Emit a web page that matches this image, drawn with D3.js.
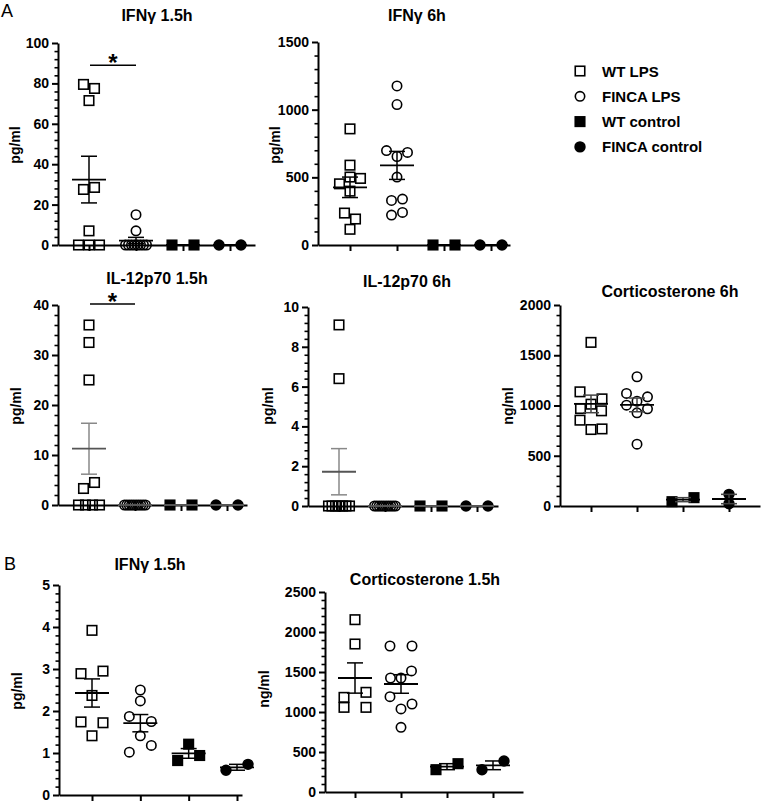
<!DOCTYPE html>
<html>
<head>
<meta charset="utf-8">
<script src="https://cdn.jsdelivr.net/npm/d3@7"></script>
<style>
  body { margin: 0; background: #fff; }
  svg { display: block; font-family: 'Liberation Sans', Arial, sans-serif; }
</style>
</head>
<body>
<div id="chart"></div>
<script>
var chart_width = 764;
var chart_height = 809;

// groups, in the order they sit on every x axis
var groups = ['WT LPS', 'FINCA LPS', 'WT control', 'FINCA control'];

// values, one array per group: [WT LPS, FINCA LPS, WT control, FINCA control]
var ifng15A = [
    [79.5, 77.5, 71.5, 27.5, 28.5, 7, 0, 0, 0],
    [15, 7, 0, 0, 0, 0, 0, 0, 0, 0],
    [0, 0],
    [0, 0]
];
var ifng6A = [
    [858, 590, 452, 502, 492, 398, 236, 192, 116],
    [1175, 1038, 698, 654, 684, 502, 329, 339, 221, 241],
    [0, 0],
    [0, 0]
];
var il12_15A = [
    [36, 32.5, 25, 3.3, 4.5, 0, 0, 0, 0],
    [0, 0, 0, 0, 0, 0, 0, 0, 0, 0],
    [0, 0],
    [0, 0]
];
var il12_6A = [
    [9.1, 6.4, 0, 0, 0, 0, 0, 0, 0],
    [0, 0, 0, 0, 0, 0, 0, 0, 0, 0],
    [0, 0],
    [0, 0]
];
var cort6A = [
    [1628, 1136, 1066, 970, 1013, 947, 854, 761, 767],
    [1286, 1120, 1043, 1086, 1003, 927, 967, 615],
    [43, 83],
    [116, 23]
];
var ifng15B = [
    [3.92, 2.89, 2.95, 2.37, 1.74, 1.72, 1.41],
    [2.50, 2.24, 1.87, 1.75, 1.41, 1.02, 1.18],
    [0.82, 1.21, 0.94],
    [0.59, 0.73]
];
var cort15B = [
    [2154, 1850, 1183, 1246, 1058, 1058],
    [1825, 1825, 1425, 1425, 1513, 1192, 1100, 1038, 808],
    [279, 354],
    [279, 388]
];

// y tick labels
var ticksIfng15A = [0, 20, 40, 60, 80, 100];
var ticksIfng6A = [0, 500, 1000, 1500];
var ticksIl12_15A = [0, 10, 20, 30, 40];
var ticksIl12_6A = [0, 2, 4, 6, 8, 10];
var ticksCort6A = [0, 500, 1000, 1500, 2000];
var ticksIfng15B = [0, 1, 2, 3, 4, 5];
var ticksCort15B = [0, 500, 1000, 1500, 2000, 2500];

// layout of each panel
var panels = [
    {title: 'IFNγ 1.5h', data: ifng15A, ticks: ticksIfng15A, minor: 4, unit: 'pg/ml',
     tx: 157, ty: 21, lx: 15, ly: 145, left: 58, right: 255, first: 89, last: 230, top: 43, bottom: 245,
     err: '#000', pair: [5.5, 5.5, 11, 11], sig: {a: 0, b: 1, y: 89}},
    {title: 'IFNγ 6h', data: ifng6A, ticks: ticksIfng6A, minor: 100, unit: 'pg/ml',
     tx: 417, ty: 21, lx: 275, ly: 145, left: 318, right: 510, first: 350, last: 491, top: 42, bottom: 245,
     err: '#000', pair: [5.5, 5.5, 11, 11]},
    {title: 'IL-12p70 1.5h', data: il12_15A, ticks: ticksIl12_15A, minor: 2, unit: 'pg/ml',
     tx: 157, ty: 284, lx: 16, ly: 406, left: 58, right: 247, first: 89, last: 227, top: 305, bottom: 505,
     err: '#888', pair: [5.5, 5.5, 11, 11], sig: {a: 0, b: 1, y: 40.2}},
    {title: 'IL-12p70 6h', data: il12_6A, ticks: ticksIl12_6A, minor: 0.4, unit: 'pg/ml',
     tx: 407, ty: 287, lx: 268, ly: 406, left: 308, right: 498, first: 339, last: 477, top: 307, bottom: 506,
     err: '#888', pair: [5.5, 5.5, 11, 11]},
    {title: 'Corticosterone 6h', data: cort6A, ticks: ticksCort6A, minor: 100, unit: 'ng/ml',
     tx: 670, ty: 297, lx: 508, ly: 406, left: 560, right: 760, first: 591, last: 729, top: 305, bottom: 506,
     err: '#444', pair: [11, 11, 11, 11]},
    {title: 'IFNγ 1.5h', data: ifng15B, ticks: ticksIfng15B, minor: 0.2, unit: 'pg/ml',
     tx: 150, ty: 570, lx: 17, ly: 691, left: 59, right: 242, first: 92, last: 237, top: 585, bottom: 795,
     err: '#000', pair: [11, 11, 11, 11]},
    {title: 'Corticosterone 1.5h', data: cort15B, ticks: ticksCort15B, minor: 100, unit: 'ng/ml',
     tx: 425, ty: 585, lx: 264, ly: 689, left: 325, right: 523, first: 355, last: 493, top: 592, bottom: 792,
     err: '#000', pair: [11, 11, 11, 11]}
];

var svg = d3.select('#chart')
            .append('svg')
            .attr('width', chart_width)
            .attr('height', chart_height);

// open markers for LPS groups, filled for controls
function drawMarker(g, gi, cx, cy) {
    var filled = gi >= 2;
    if (gi % 2 === 0) {
        g.append('rect')
            .attr('x', cx - 4.75).attr('y', cy - 4.75)
            .attr('width', 9.5).attr('height', 9.5)
            .attr('fill', filled ? '#000' : 'none')
            .attr('stroke', '#000').attr('stroke-width', 1.6);
    } else {
        g.append('circle')
            .attr('cx', cx).attr('cy', cy).attr('r', filled ? 4.9 : 4.7)
            .attr('fill', filled ? '#000' : 'none')
            .attr('stroke', '#000').attr('stroke-width', 1.6);
    }
}

// Prism-like scatter: points close in y share a row and are spread sideways
function spread(vals, y, pairHalf) {
    var order = vals.map((v, i) => i).sort((a, b) => (vals[b] - vals[a]) || (a - b));
    var rows = [], cur = null;
    order.forEach((i) => {
        var py = y(vals[i]);
        if (cur && Math.abs(py - cur.py) < 9) {
            cur.items.push(i);
        } else {
            cur = {py: py, items: [i]};
            rows.push(cur);
        }
    });
    var off = [];
    rows.forEach((r) => {
        r.items.sort((a, b) => a - b);
        var n = r.items.length;
        var step = n === 1 ? 0 : (n === 2 ? pairHalf * 2 : Math.min(11, 21 / (n - 1)));
        r.items.forEach((i, k) => { off[i] = (k - (n - 1) / 2) * step; });
    });
    return off;
}

panels.forEach((p) => {
    var g = svg.append('g');
    var ymax = p.ticks[p.ticks.length - 1];

    var y_scale = d3.scaleLinear()
                    .domain([0, ymax])
                    .range([p.bottom, p.top]);

    // point scale whose range is the whole x axis line
    var step = (p.last - p.first) / (groups.length - 1);
    var pad = ((p.right - p.left) / step - (groups.length - 1)) / 2;
    var x_scale = d3.scalePoint()
                    .domain(groups)
                    .range([p.left, p.right])
                    .padding(pad)
                    .align((p.first - p.left) / (p.right - p.left - (groups.length - 1) * step));

    // minor y ticks
    var minors = d3.range(0, ymax + p.minor / 2, p.minor)
                   .filter((v) => p.ticks.every((t) => Math.abs(t - v) > p.minor / 10));
    g.append('g')
        .attr('transform', 'translate(' + p.left + ',0)')
        .call(d3.axisLeft(y_scale).tickValues(minors).tickSize(3.5).tickFormat(''))
        .call((a) => a.select('.domain').remove())
        .selectAll('line').attr('stroke-width', 1.6);

    // y axis
    var ya = g.append('g')
        .attr('transform', 'translate(' + p.left + ',0)')
        .call(d3.axisLeft(y_scale).tickValues(p.ticks).tickFormat(d3.format('d'))
              .tickSize(6).tickSizeOuter(0).tickPadding(3));
    ya.select('.domain').attr('stroke-width', 2);
    ya.selectAll('line').attr('stroke-width', 2);
    ya.selectAll('text')
        .attr('font-size', 14).attr('font-weight', 'bold')
        .attr('font-family', "'Liberation Sans', Arial, sans-serif").attr('fill', '#000');

    // x axis, ticks only
    var xa = g.append('g')
        .attr('transform', 'translate(0,' + p.bottom + ')')
        .call(d3.axisBottom(x_scale).tickSize(6).tickSizeOuter(0).tickFormat(''));
    xa.select('.domain').attr('stroke-width', 2);
    xa.selectAll('line').attr('stroke-width', 2);

    // title and unit
    g.append('text')
        .attr('x', p.tx).attr('y', p.ty)
        .attr('text-anchor', 'middle')
        .attr('font-size', 16).attr('font-weight', 'bold')
        .text(p.title);
    g.append('text')
        .attr('transform', 'translate(' + p.lx + ',' + p.ly + ') rotate(-90)')
        .attr('text-anchor', 'middle').attr('dy', '0.35em')
        .attr('font-size', 14).attr('font-weight', 'bold')
        .text(p.unit);

    // points
    p.data.forEach((vals, gi) => {
        var off = spread(vals, y_scale, p.pair[gi]);
        var cx = x_scale(groups[gi]);
        vals.forEach((v, i) => drawMarker(g, gi, cx + off[i], y_scale(v)));
    });

    // mean and SEM
    p.data.forEach((vals, gi) => {
        var cx = x_scale(groups[gi]);
        var m = d3.mean(vals);
        var sem = d3.deviation(vals) / Math.sqrt(vals.length);
        var eg = g.append('g').attr('stroke', p.err).attr('stroke-width', 1.5);
        if (sem > 0) {
            eg.append('line')
                .attr('x1', cx).attr('x2', cx)
                .attr('y1', y_scale(m - sem)).attr('y2', y_scale(m + sem));
            [m - sem, m + sem].forEach((v) => {
                eg.append('line')
                    .attr('x1', cx - 8).attr('x2', cx + 8)
                    .attr('y1', y_scale(v)).attr('y2', y_scale(v));
            });
        }
        eg.append('line')
            .attr('x1', cx - 17).attr('x2', cx + 17)
            .attr('y1', y_scale(m)).attr('y2', y_scale(m))
            .attr('stroke', p.err === '#888' ? '#555' : '#000')
            .attr('stroke-width', 1.8);
    });

    // significance bar and star
    if (p.sig) {
        var xa1 = x_scale(groups[p.sig.a]) + 1;
        var xb1 = x_scale(groups[p.sig.b]);
        g.append('line')
            .attr('x1', xa1).attr('x2', xb1)
            .attr('y1', y_scale(p.sig.y)).attr('y2', y_scale(p.sig.y))
            .attr('stroke', '#000').attr('stroke-width', 1.6);
        g.append('text')
            .attr('x', (xa1 + xb1) / 2).attr('y', y_scale(p.sig.y) + 5.5)
            .attr('text-anchor', 'middle')
            .attr('font-size', 24).attr('font-weight', 'bold')
            .text('*');
    }
});

// panel letters
svg.append('text').attr('x', 1).attr('y', 17).attr('font-size', 18).text('A');
svg.append('text').attr('x', 4).attr('y', 570).attr('font-size', 18).text('B');

// legend
var legend = svg.append('g');
groups.forEach((name, gi) => {
    var cy = 71 + gi * 25.3;
    drawMarker(legend, gi, 580, cy);
    legend.append('text')
        .attr('x', 602).attr('y', cy + 5.5)
        .attr('font-size', 15).attr('font-weight', 'bold')
        .text(name);
});
</script>
</body>
</html>
